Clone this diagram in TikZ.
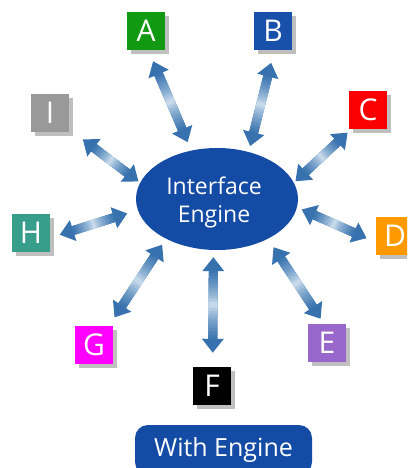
\documentclass[tikz,border=0pt]{standalone}
\usepackage{fontspec}
\setmainfont{Open Sans}
\usetikzlibrary{arrows.meta,shadows,calc,shapes.geometric}
\definecolor{engblue}{RGB}{20,75,165}
\definecolor{arrdark}{RGB}{55,114,174}
\definecolor{arrlight}{RGB}{215,230,242}
\definecolor{cA}{RGB}{17,153,17}
\definecolor{cB}{RGB}{25,80,170}
\definecolor{cC}{RGB}{250,0,0}
\definecolor{cD}{RGB}{255,153,0}
\definecolor{cE}{RGB}{153,102,204}
\definecolor{cF}{RGB}{0,0,0}
\definecolor{cG}{RGB}{255,0,255}
\definecolor{cH}{RGB}{56,158,140}
\definecolor{cI}{RGB}{153,153,153}
\tikzset{
  letterbox/.style={rectangle, minimum size=38pt, inner sep=0pt, text=white,
    font=\fontsize{30}{30}\selectfont,
    drop shadow={shadow xshift=4pt, shadow yshift=-4pt, opacity=0.25, fill=black}},
  arrbase/.style={line width=9pt, color=arrdark,
    {Triangle[length=14pt,width=21pt]}-{Triangle[length=14pt,width=21pt]}},
}
\newcommand\biarrow[4]{%
  \draw[arrbase, shorten <=#3pt, shorten >=#4pt] (#1) -- (#2);
  \pgfmathsetmacro\ga{#3+13}\pgfmathsetmacro\gb{#4+13}
  \coordinate (ps) at ($(#1)!\ga pt!(#2)$);
  \coordinate (pe) at ($(#2)!\gb pt!(#1)$);
  \foreach \i in {0,...,23}{
    \pgfmathsetmacro\ta{\i/24}
    \pgfmathsetmacro\tb{min((\i+1.6)/24,1)}
    \pgfmathsetmacro\pc{100*abs(2*(\i+0.5)/24-1)^0.7}
    \draw[line width=9pt, color=arrdark!\pc!arrlight] ($(ps)!\ta!(pe)$) -- ($(ps)!\tb!(pe)$);
  }
}
\begin{document}
\begin{tikzpicture}[x=1pt,y=-1pt]
\path[clip, use as bounding box] (0,0) rectangle (407,468);
\fill[white] (0,0) rectangle (407,468);

\node[ellipse, fill=engblue, minimum width=162pt, minimum height=102pt, inner sep=0pt] (eng) at (217,199) {};
\node[text=white, align=center, font=\fontsize{23}{28}\selectfont] (engtxt) at (214,202) {Interface\\Engine};

\node[letterbox, fill=cA] (A) at (146,31) {A};
\node[letterbox, fill=cB] (B) at (273,31) {B};
\node[letterbox, fill=cC] (C) at (368,110) {C};
\node[letterbox, fill=cD] (D) at (395,236) {D};
\node[letterbox, fill=cE] (E) at (327,343) {E};
\node[letterbox, fill=cF] (F) at (212,386) {F};
\node[letterbox, fill=cG] (G) at (94,345) {G};
\node[letterbox, fill=cH] (H) at (31,233) {H};
\node[letterbox, fill=cI] (I) at (50,113) {I};

\biarrow{eng.118}{A.-83}{9}{12}
\biarrow{eng.56}{B.-86}{6}{13}
\biarrow{eng.12}{C.-131}{2}{5}
\biarrow{eng.-6}{D.198}{5}{10}
\biarrow{eng.-38}{E.99}{10}{6}
\biarrow{eng.-94}{F.88}{7}{14}
\biarrow{eng.218}{G.52}{7}{10}
\biarrow{eng.188}{H.-14}{11}{10}
\biarrow{eng.168}{I.-40}{2}{17}

\node[rectangle, rounded corners=13pt, fill=engblue, text=white, minimum width=177pt, minimum height=50pt, inner sep=0pt, font=\fontsize{25}{25}\selectfont] (btn) at (223.5,450) {With Engine};
\end{tikzpicture}
\end{document}
